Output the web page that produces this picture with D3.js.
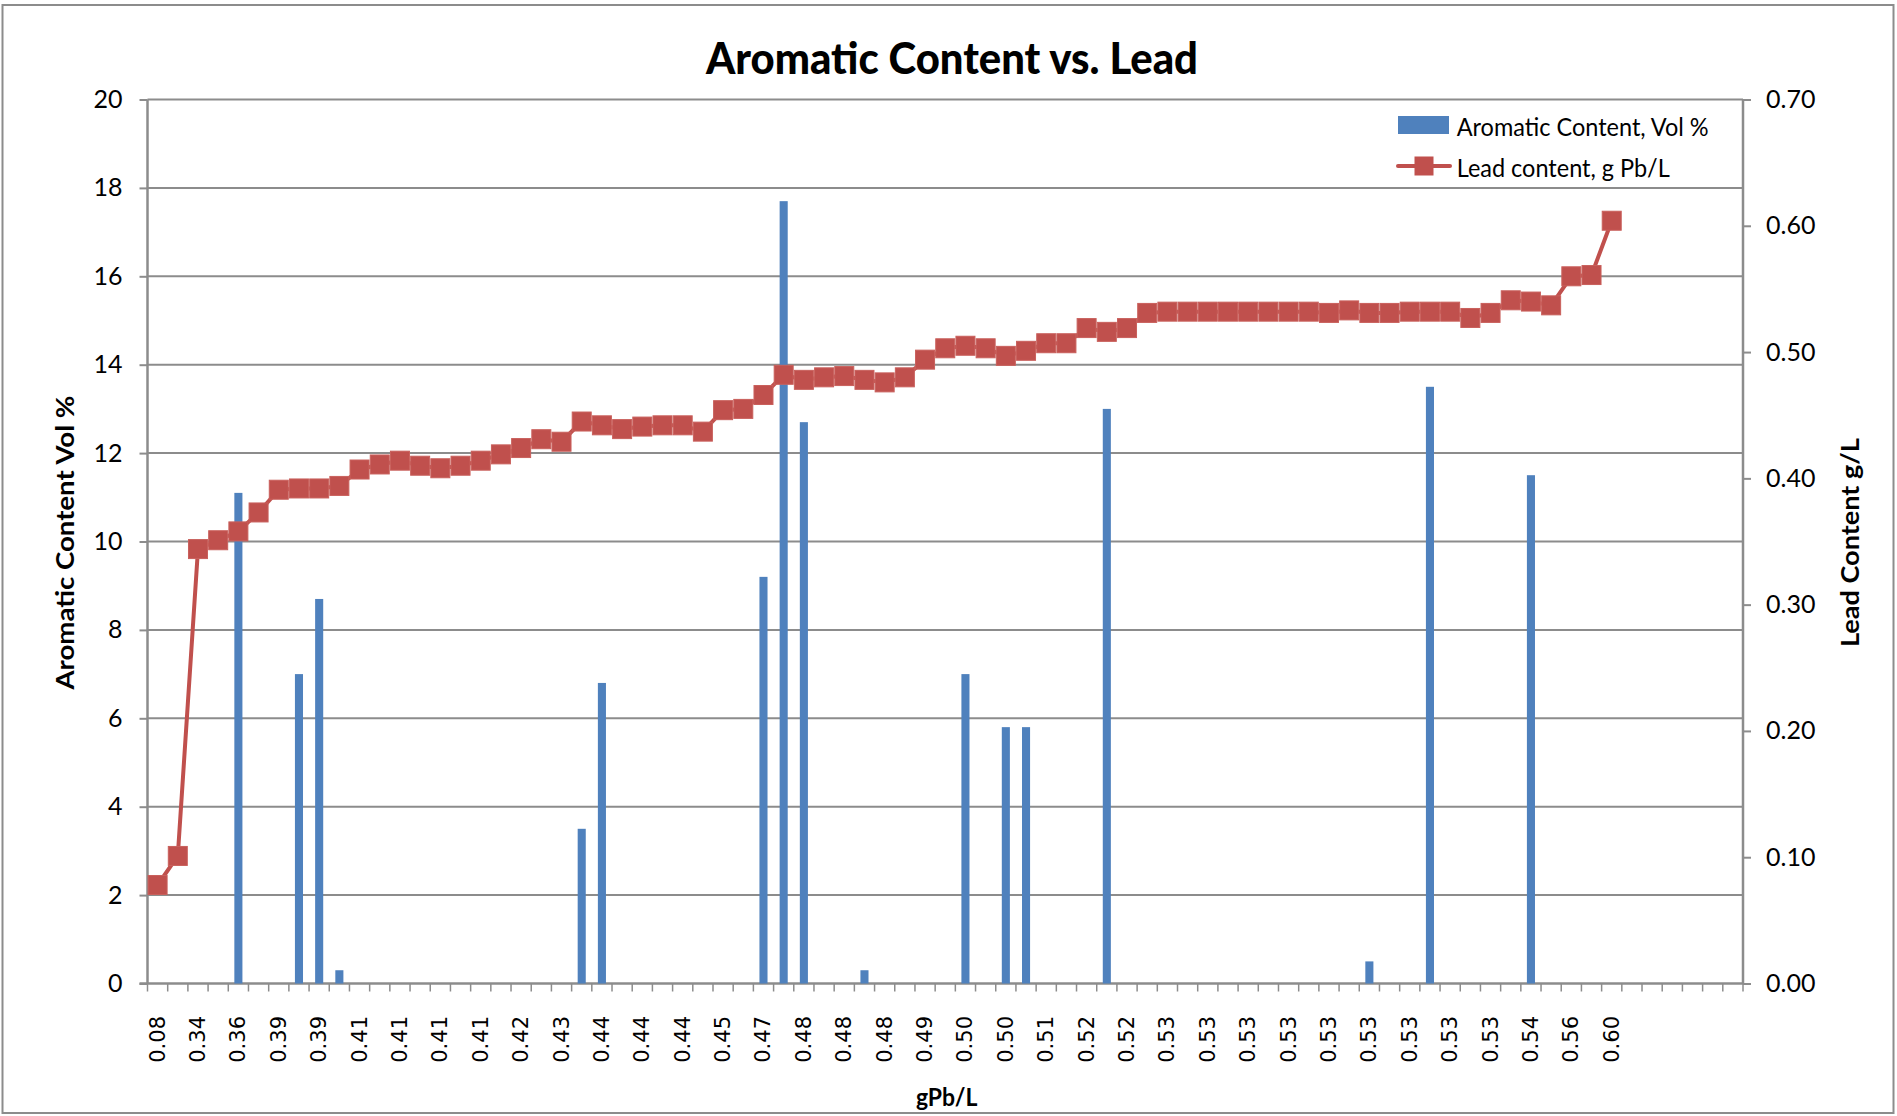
<!DOCTYPE html>
<html>
<head>
<meta charset="utf-8">
<script src="https://cdn.jsdelivr.net/npm/d3@7"></script>
<style>
  html, body { margin: 0; padding: 0; background: #fff; }
  svg { display: block; }
</style>
</head>
<body>
<div id="chart"></div>
<script>
const width = 1897;
const height = 1116;
const plot = { left: 147.5, right: 1743, top: 99.5, bottom: 983.5 };
const barColor = "#4F81BD";
const lineColor = "#C0504D";
const gridColor = "#8c8c8c";

// category labels (gPb/L), 73 rows of data + 6 empty rows in the sheet
const categories = [
  "0.08", "0.10", "0.34", "0.35", "0.36", "0.37", "0.39", "0.39", "0.39", "0.39",
  "0.41", "0.41", "0.41", "0.41", "0.41", "0.41", "0.41", "0.42", "0.42", "0.43",
  "0.43", "0.44", "0.44", "0.44", "0.44", "0.44", "0.44", "0.44", "0.45", "0.46",
  "0.47", "0.48", "0.48", "0.48", "0.48", "0.48", "0.48", "0.48", "0.49", "0.50",
  "0.50", "0.50", "0.50", "0.50", "0.51", "0.51", "0.52", "0.52", "0.52", "0.53",
  "0.53", "0.53", "0.53", "0.53", "0.53", "0.53", "0.53", "0.53", "0.53", "0.53",
  "0.53", "0.53", "0.53", "0.53", "0.53", "0.53", "0.53", "0.54", "0.54", "0.54",
  "0.56", "0.56", "0.60", "", "", "", "", "", ""
];

// Aromatic Content, Vol % (left axis)
const aromatic = [
  0, 0, 0, 0, 11.1, 0, 0, 7.0, 8.7, 0.3,
  0, 0, 0, 0, 0, 0, 0, 0, 0, 0,
  0, 3.5, 6.8, 0, 0, 0, 0, 0, 0, 0,
  9.2, 17.7, 12.7, 0, 0, 0.3, 0, 0, 0, 0,
  7.0, 0, 5.8, 5.8, 0, 0, 0, 13.0, 0, 0,
  0, 0, 0, 0, 0, 0, 0, 0, 0, 0,
  0.5, 0, 0, 13.5, 0, 0, 0, 0, 11.5, 0,
  0, 0, 0
];

// Lead content, g Pb/L (right axis)
const lead = [
  0.078, 0.101, 0.344, 0.351, 0.358, 0.373, 0.391, 0.392, 0.392, 0.394,
  0.407, 0.411, 0.414, 0.410, 0.408, 0.410, 0.414, 0.419, 0.424, 0.431,
  0.429, 0.445, 0.442, 0.439, 0.441, 0.442, 0.442, 0.437, 0.454, 0.455,
  0.466, 0.482, 0.478, 0.480, 0.481, 0.478, 0.476, 0.480, 0.494, 0.503,
  0.505, 0.503, 0.497, 0.501, 0.507, 0.507, 0.519, 0.516, 0.519, 0.531,
  0.532, 0.532, 0.532, 0.532, 0.532, 0.532, 0.532, 0.532, 0.531, 0.533,
  0.531, 0.531, 0.532, 0.532, 0.532, 0.527, 0.531, 0.541, 0.540, 0.537,
  0.560, 0.561, 0.604
];

const leftTicks = [0, 2, 4, 6, 8, 10, 12, 14, 16, 18, 20];
const rightTicks = [0, 0.1, 0.2, 0.3, 0.4, 0.5, 0.6, 0.7];

const svg = d3.select("#chart")
  .append("svg")
  .attr("width", width)
  .attr("height", height);

// chart frame
svg.append("rect")
  .attr("x", 2.5).attr("y", 5)
  .attr("width", 1891).attr("height", 1108)
  .attr("fill", "#fff")
  .attr("stroke", gridColor)
  .attr("stroke-width", 2);

const x = d3.scaleBand()
  .domain(d3.range(categories.length))
  .range([plot.left, plot.right])
  .padding(0);

const yLeft = d3.scaleLinear().domain([0, 20]).range([plot.bottom, plot.top]);
const yRight = d3.scaleLinear().domain([0, 0.7]).range([plot.bottom, plot.top]);

// horizontal gridlines
svg.append("g")
  .selectAll("line")
  .data(leftTicks.filter((d) => d > 0))
  .join("line")
  .attr("x1", plot.left)
  .attr("x2", plot.right)
  .attr("y1", (d) => yLeft(d))
  .attr("y2", (d) => yLeft(d))
  .attr("stroke", gridColor)
  .attr("stroke-width", 2);

// left axis
const leftAxis = svg.append("g")
  .attr("transform", `translate(${plot.left},0)`)
  .call(d3.axisLeft(yLeft).tickValues(leftTicks).tickSize(8).tickPadding(17).tickFormat(d3.format("d")));

// right axis
const rightAxis = svg.append("g")
  .attr("transform", `translate(${plot.right},0)`)
  .call(d3.axisRight(yRight).tickValues(rightTicks).tickSize(8).tickPadding(15).tickFormat(d3.format(".2f")));

// bottom axis: ticks on category boundaries, labels on every other category
const bottom = svg.append("g");
bottom.append("line")
  .attr("x1", plot.left - 8).attr("x2", plot.right)
  .attr("y1", plot.bottom).attr("y2", plot.bottom)
  .attr("stroke", gridColor).attr("stroke-width", 2.5);

bottom.selectAll(".xtick")
  .data(d3.range(categories.length + 1))
  .join("line")
  .attr("class", "xtick")
  .attr("x1", (i) => (i < categories.length ? x(i) : plot.right))
  .attr("x2", (i) => (i < categories.length ? x(i) : plot.right))
  .attr("y1", plot.bottom)
  .attr("y2", plot.bottom + 8)
  .attr("stroke", gridColor)
  .attr("stroke-width", 1.5);

bottom.selectAll(".xlabel")
  .data(categories.map((c, i) => ({ c, i })).filter((d) => d.i % 2 === 0 && d.c !== ""))
  .join("text")
  .attr("class", "xlabel")
  .attr("transform", (d) => `translate(${x(d.i) + x.bandwidth() / 2},1016) rotate(-90)`)
  .attr("text-anchor", "end")
  .attr("dominant-baseline", "central")
  .style("font-family", "'DejaVu Sans', sans-serif")
  .style("font-size", "21px")
  .attr("fill", "#000")
  .text((d) => d.c);

[leftAxis, rightAxis].forEach((g) => {
  g.select(".domain").attr("stroke", gridColor).attr("stroke-width", 2.5);
  g.selectAll(".tick line").attr("stroke", gridColor).attr("stroke-width", 2);
  g.selectAll(".tick text")
    .style("font-family", "Lato, 'Open Sans', sans-serif")
    .style("font-size", "25px")
    .attr("fill", "#000");
});
leftAxis.select(".domain").attr("d", `M0,${plot.bottom}V${plot.top}`);
rightAxis.select(".domain").attr("d", `M0,${plot.bottom}V${plot.top}`);

// bars
const barWidth = x.bandwidth() * 0.4;
svg.append("g")
  .selectAll("rect")
  .data(aromatic.map((v, i) => ({ v, i })).filter((d) => d.v > 0))
  .join("rect")
  .attr("x", (d) => x(d.i) + (x.bandwidth() - barWidth) / 2)
  .attr("y", (d) => yLeft(d.v))
  .attr("width", barWidth)
  .attr("height", (d) => yLeft(0) - yLeft(d.v))
  .attr("fill", barColor);

// lead line + square markers
const line = d3.line()
  .x((d, i) => x(i) + x.bandwidth() / 2)
  .y((d) => yRight(d));

svg.append("path")
  .datum(lead)
  .attr("d", line)
  .attr("fill", "none")
  .attr("stroke", lineColor)
  .attr("stroke-width", 4)
  .attr("stroke-linejoin", "round");

const markerSize = 19;
svg.append("g")
  .selectAll("rect")
  .data(lead)
  .join("rect")
  .attr("x", (d, i) => x(i) + x.bandwidth() / 2 - markerSize / 2)
  .attr("y", (d) => yRight(d) - markerSize / 2)
  .attr("width", markerSize)
  .attr("height", markerSize)
  .attr("fill", lineColor)
  .attr("stroke", "#c9605c")
  .attr("stroke-width", 1);

// title
svg.append("text")
  .attr("x", 952)
  .attr("y", 74)
  .attr("text-anchor", "middle")
  .attr("textLength", 492)
  .attr("lengthAdjust", "spacingAndGlyphs")
  .style("font-family", "Lato, sans-serif")
  .style("font-weight", "900")
  .style("font-size", "44px")
  .text("Aromatic Content vs. Lead");

// axis titles
svg.append("text")
  .attr("transform", "translate(74,542.6) rotate(-90)")
  .attr("text-anchor", "middle")
  .attr("textLength", 294)
  .attr("lengthAdjust", "spacingAndGlyphs")
  .style("font-family", "Lato, sans-serif")
  .style("font-weight", "bold")
  .style("font-size", "24px")
  .text("Aromatic Content Vol %");

svg.append("text")
  .attr("transform", "translate(1859,542.6) rotate(-90)")
  .attr("text-anchor", "middle")
  .attr("textLength", 209)
  .attr("lengthAdjust", "spacingAndGlyphs")
  .style("font-family", "Lato, sans-serif")
  .style("font-weight", "bold")
  .style("font-size", "24px")
  .text("Lead Content g/L");

svg.append("text")
  .attr("x", 946.7)
  .attr("y", 1106)
  .attr("text-anchor", "middle")
  .attr("textLength", 61.5)
  .attr("lengthAdjust", "spacingAndGlyphs")
  .style("font-family", "Lato, sans-serif")
  .style("font-weight", "bold")
  .style("font-size", "24px")
  .text("gPb/L");

// legend
const legend = svg.append("g").attr("transform", "translate(1398,0)");
legend.append("rect")
  .attr("x", 0).attr("y", 116)
  .attr("width", 51).attr("height", 18)
  .attr("fill", barColor);
legend.append("line")
  .attr("x1", 0).attr("x2", 52)
  .attr("y1", 166).attr("y2", 166)
  .attr("stroke", lineColor)
  .attr("stroke-width", 4)
  .attr("stroke-linecap", "round");
legend.append("rect")
  .attr("x", 26 - markerSize / 2).attr("y", 166 - markerSize / 2)
  .attr("width", markerSize).attr("height", markerSize)
  .attr("fill", lineColor);

const legendItems = ["Aromatic Content, Vol %", "Lead content, g Pb/L"];
const legendLengths = [252, 213];
legend.selectAll(".legend-text")
  .data(legendItems)
  .join("text")
  .attr("class", "legend-text")
  .attr("x", 58.7)
  .attr("y", (d, i) => 135.7 + i * 41.5)
  .attr("textLength", (d, i) => legendLengths[i])
  .attr("lengthAdjust", "spacingAndGlyphs")
  .style("font-family", "Lato, sans-serif")
  .style("font-size", "25px")
  .text((d) => d);
</script>
</body>
</html>
